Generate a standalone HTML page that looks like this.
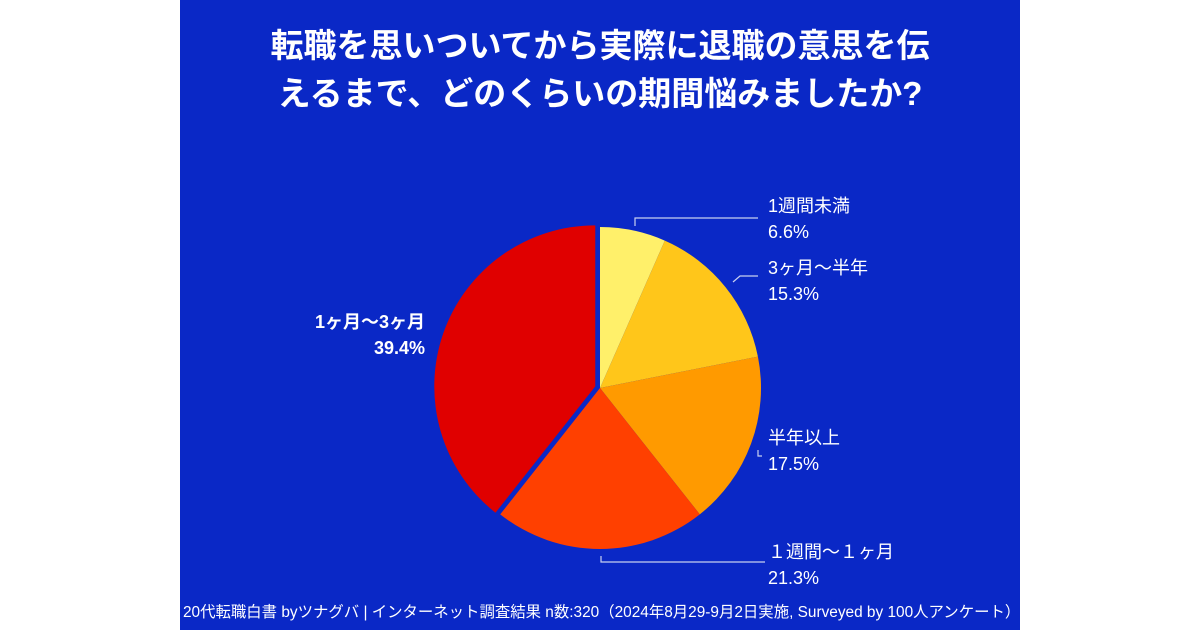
<!DOCTYPE html>
<html><head><meta charset="utf-8"><style>
body{margin:0;width:1200px;height:630px;background:#fff;overflow:hidden;font-family:"Liberation Sans","Noto Sans CJK JP",sans-serif}
#panel{position:absolute;left:180px;top:0;width:840px;height:630px;background:#0a28c6}
.t{position:absolute;color:#fff;white-space:nowrap}
</style></head><body>
<div id="panel"></div>
<div class="t" style="left:180px;width:840px;top:22px;text-align:center;font-size:33px;font-weight:bold;line-height:48px">転職を思いついてから実際に退職の意思を伝<br>えるまで、どのくらいの期間悩みましたか?</div>
<svg id="pie" width="1200" height="630" style="position:absolute;left:0;top:0"></svg>
<div class="t" style="left:183px;top:600px;font-size:15.4px">20代転職白書 byツナグバ | インターネット調査結果 n数:320（2024年8月29-9月2日実施, Surveyed by 100人アンケート）</div>
<script>
const categories=["1週間未満","3ヶ月〜半年","半年以上","１週間〜１ヶ月","1ヶ月〜3ヶ月"];
const values=[6.6,15.3,17.5,21.3,39.4];
const colors=["#fff06a","#ffc61a","#ff9a00","#ff4000","#e00000"];
const labelPos=[[768,212,"start",false],[768,274,"start",false],[768,444,"start",false],[768,558,"start",false],[425,328,"end",true]];
const svg=document.getElementById('pie');
const NS="http://www.w3.org/2000/svg";
const cx=600,cy=388,r=161;
const total=values.reduce((a,b)=>a+b,0);
let a0=0;
values.forEach((v,i)=>{
  const a1=a0+v/total*2*Math.PI;
  let ox=0,oy=0;
  if(i===values.length-1){const m=(a0+a1)/2;ox=5*Math.sin(m);oy=-5*Math.cos(m);}
  const x0=cx+ox+r*Math.sin(a0),y0=cy+oy-r*Math.cos(a0),x1=cx+ox+r*Math.sin(a1),y1=cy+oy-r*Math.cos(a1);
  const p=document.createElementNS(NS,'path');
  p.setAttribute('d',`M${cx+ox},${cy+oy}L${x0},${y0}A${r},${r} 0 ${a1-a0>Math.PI?1:0} 1 ${x1},${y1}Z`);
  p.setAttribute('fill',colors[i]);
  
  
  svg.appendChild(p);
  const lp=labelPos[i];
  [categories[i],values[i].toFixed(1)+"%"].forEach((s,k)=>{
    const t=document.createElementNS(NS,'text');
    t.setAttribute('x',lp[0]);t.setAttribute('y',lp[1]+k*26);
    t.setAttribute('fill','#fff');t.setAttribute('font-size','18');
    t.setAttribute('text-anchor',lp[2]);
    if(lp[3])t.setAttribute('font-weight','bold');
    t.textContent=s;
    
    
    svg.appendChild(t);
  });
  a0=a1;
});
const leaders=["M635,226V218H758","M733,282L740,276H758","M758,450V456H762","M601,556V562H765"];
leaders.forEach((d,i)=>{
  const l=document.createElementNS(NS,'path');
  l.setAttribute('d',d);l.setAttribute('stroke','#c8d0f0');l.setAttribute('fill','none');l.setAttribute('stroke-width','1.2');
  
  
  svg.appendChild(l);
});
</script>
</body></html>
